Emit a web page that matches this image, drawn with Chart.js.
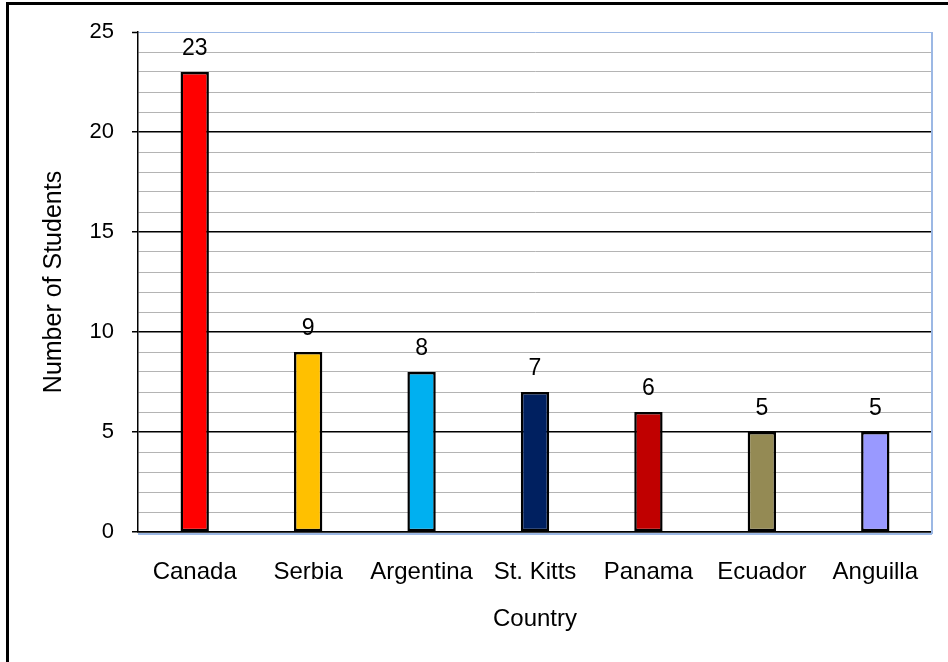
<!DOCTYPE html>
<html>
<head>
<meta charset="utf-8">
<script src="https://cdn.jsdelivr.net/npm/chart.js@4/dist/chart.umd.min.js"></script>
<style>
    html, body { margin: 0; padding: 0; background: #fff; overflow: hidden; }
    #marco {
        position: absolute; left: 6px; top: 2px; right: 0; bottom: 0;
        border-left: 3px solid #000; border-top: 3px solid #000;
        pointer-events: none;
    }
</style>
</head>
<body>
<canvas id="grafico" width="948" height="662"></canvas>
<div id="marco"></div>
<script>
const paises = ['Canada', 'Serbia', 'Argentina', 'St. Kitts', 'Panama', 'Ecuador', 'Anguilla'];
const estudiantes = [23, 9, 8, 7, 6, 5, 5];
const colores = ['#FF0000', '#FFC000', '#00B0F0', '#002060', '#C00000', '#948A54', '#9999FF'];
const marcasY = [0, 5, 10, 15, 20, 25];

const fuente = '"Liberation Sans", Arial, sans-serif';
const azulBorde = '#9cb8e4';

// etiquetas de valor encima de cada barra
const etiquetasBarras = {
    id: 'etiquetasBarras',
    afterDatasetsDraw(chart) {
        const ctx = chart.ctx;
        const meta = chart.getDatasetMeta(0);
        ctx.save();
        ctx.font = '23px ' + fuente;
        ctx.fillStyle = '#000';
        ctx.textAlign = 'center';
        ctx.textBaseline = 'alphabetic';
        meta.data.forEach((barra, i) => {
            ctx.fillText(String(estudiantes[i]), barra.x, barra.y - 17);
        });
        ctx.restore();
    }
};

// borde derecho del area del grafico
const bordeArea = {
    id: 'bordeArea',
    beforeDatasetsDraw(chart) {
        const a = chart.chartArea;
        const ctx = chart.ctx;
        ctx.save();
        ctx.strokeStyle = azulBorde;
        ctx.lineWidth = 2;
        ctx.beginPath();
        ctx.moveTo(a.right, a.top);
        ctx.lineTo(a.right, a.bottom + 2);
        ctx.moveTo(a.left, a.bottom + 2);
        ctx.lineTo(a.right, a.bottom + 2);
        ctx.stroke();
        ctx.restore();
    }
};

const ctx = document.getElementById('grafico').getContext('2d');
new Chart(ctx, {
    type: 'bar',
    data: {
        labels: paises,
        datasets: [{
            data: estudiantes,
            backgroundColor: colores,
            borderColor: '#000',
            borderWidth: 2.5,
            borderSkipped: false,
            categoryPercentage: 1,
            barPercentage: 0.25
        }]
    },
    options: {
        responsive: false,
        animation: false,
        layout: { padding: { left: 0, top: 32, right: 16, bottom: 0 } },
        plugins: {
            legend: { display: false },
            tooltip: { enabled: false }
        },
        scales: {
            x: {
                grid: { display: false, drawTicks: false },
                border: { display: true, color: '#000', width: 1.5 },
                ticks: {
                    color: '#000',
                    padding: 26,
                    font: { family: fuente, size: 24 }
                },
                title: {
                    display: true,
                    text: 'Country',
                    color: '#000',
                    font: { family: fuente, size: 24 },
                    padding: { top: 0, bottom: 28 }
                },
                afterFit(scale) { scale.height = 130; }
            },
            y: {
                min: 0,
                max: 25,
                grid: {
                    color: c => {
                        const v = c.tick.value;
                        if (v === 25) return azulBorde;
                        return marcasY.includes(v) ? '#000' : '#b4b4b4';
                    },
                    lineWidth: c => (marcasY.includes(c.tick.value) && c.tick.value !== 25) ? 1.5 : 1,
                    tickColor: c => marcasY.includes(c.tick.value) ? '#000' : 'rgba(0,0,0,0)',
                    tickLength: 6,
                    tickWidth: 1.5
                },
                border: { display: true, color: '#000', width: 1.5 },
                ticks: {
                    stepSize: 1,
                    autoSkip: false,
                    color: '#000',
                    padding: 18,
                    font: { family: fuente, size: 22 },
                    callback: v => marcasY.includes(v) ? v : ''
                },
                title: {
                    display: true,
                    text: 'Number of Students',
                    color: '#000',
                    font: { family: fuente, size: 25 },
                    padding: { top: 39, bottom: 0 }
                },
                afterFit(scale) { scale.width = 138; }
            }
        }
    },
    plugins: [bordeArea, etiquetasBarras]
});
</script>
</body>
</html>
